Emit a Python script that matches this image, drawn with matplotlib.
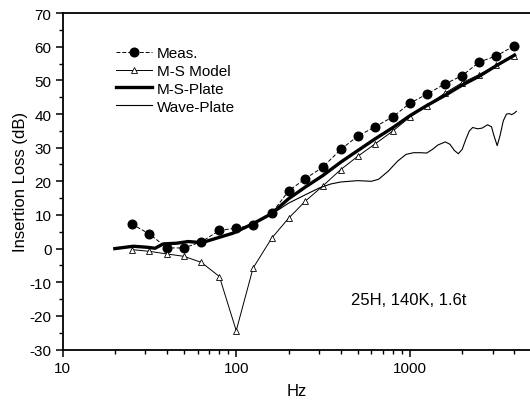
import numpy as np
import matplotlib
matplotlib.use('Agg')
import matplotlib.pyplot as plt
from matplotlib.ticker import MultipleLocator, LogLocator, FixedLocator, NullFormatter

plt.rcParams.update({'font.family': 'Liberation Sans',
                     'font.size': 11,
                     'axes.unicode_minus': False,
                     'axes.linewidth': 1.3})

# 1/3 octave band centres
freq = [25, 31.5, 40, 50, 63, 80, 100, 125, 160, 200, 250, 315, 400,
        500, 630, 800, 1000, 1250, 1600, 2000, 2500, 3150, 4000]
meas = [7.3, 4.4, 0.2, 0.2, 2.0, 5.4, 6.1, 7.0, 10.5, 17.1, 20.8, 24.2, 29.5,
        33.4, 36.2, 39.2, 43.2, 45.9, 49.0, 51.4, 55.4, 57.3, 60.3]
ms_model = [-0.3, -0.8, -1.6, -2.3, -4.1, -8.3, -24.4, -5.8, 3.1, 9.0, 14.1, 18.6, 23.5,
            27.4, 31.1, 35.0, 39.1, 42.5, 46.3, 49.3, 51.7, 54.5, 57.2]

# M-S-Plate (continuous curve)
msp_f = [20, 25.6, 30.6, 34.1, 38, 45.4, 53, 59, 67.6, 77, 96, 125, 160, 200, 250,
         315, 400, 500, 630, 800, 1000, 1250, 1600, 2000, 2500, 3150, 4000]
msp_v = [0.0, 0.7, 0.4, 0.1, 1.4, 1.6, 2.1, 1.9, 2.2, 3.1, 4.6, 7.4, 10.4, 14.8, 18.3,
         21.7, 25.7, 29.1, 32.6, 36.0, 39.5, 42.5, 45.6, 48.6, 51.2, 54.4, 57.5]

# Wave-Plate (continuous curve)
wp_f = [20, 25.6, 30.6, 34.1, 38, 45.4, 53, 59, 67.6, 77, 96, 125, 160, 200, 250, 300,
        350, 400, 500, 600, 660, 750, 850, 950, 1050, 1150, 1250, 1350, 1450, 1600,
        1700, 1800, 1900, 2000, 2100, 2200, 2300, 2450, 2600, 2800, 2950, 3050, 3180,
        3300, 3450, 3600, 3750, 3850, 4000, 4100]
wp_v = [0.0, 0.7, 0.4, 0.1, 1.4, 1.6, 2.1, 1.9, 2.2, 3.1, 4.6, 7.3, 10.2, 13.5, 16.0, 18.0,
        19.2, 19.8, 20.2, 20.0, 20.6, 23.0, 26.0, 28.0, 28.5, 28.5, 28.4, 29.5, 30.8, 31.7,
        31.0, 29.2, 28.2, 29.5, 32.5, 35.0, 36.0, 35.6, 35.8, 36.8, 36.2, 33.5, 30.6,
        33.5, 38.0, 40.0, 40.1, 39.8, 40.3, 40.8]

fig = plt.figure(figsize=(5.30, 4.02), dpi=100)
ax = fig.add_axes([0.118, 0.128, 0.882, 0.837])

ax.plot(freq, meas, color='k', lw=0.7, ls=(0, (4, 2)), marker='o', ms=6.2,
        mfc='k', mec='k', label='Meas.')
ax.plot(freq, ms_model, color='k', lw=0.7, marker='^', ms=4.5, mfc='white',
        mec='k', mew=0.6, label='M-S Model')
ax.plot(msp_f, msp_v, color='k', lw=2.4, label='M-S-Plate')
ax.plot(wp_f, wp_v, color='k', lw=0.8, label='Wave-Plate')

ax.set_xscale('log')
ax.set_xlim(10, 4914)
ax.set_ylim(-30, 70)
ax.xaxis.set_major_locator(FixedLocator([10, 100, 1000]))
ax.set_xticklabels(['10', '100', '1000'])
ax.xaxis.set_minor_locator(LogLocator(base=10, subs=np.arange(2, 10)))
ax.xaxis.set_minor_formatter(NullFormatter())
ax.yaxis.set_major_locator(MultipleLocator(10))
ax.yaxis.set_minor_locator(MultipleLocator(5))
ax.tick_params(which='major', direction='out', length=5, width=1.1, labelsize=11, pad=3)
ax.tick_params(which='minor', direction='out', length=3, width=1.0)
ax.spines['right'].set_visible(False)

ax.set_xlabel('Hz', fontsize=12, labelpad=6)
ax.set_ylabel('Insertion Loss (dB)', fontsize=12, labelpad=1)

ax.text(456, -15, '25H, 140K, 1.6t', fontsize=12, ha='left', va='center')

leg = ax.legend(loc='upper left', bbox_to_anchor=(0.114, 0.902), frameon=False,
                fontsize=11, handlelength=2.4, handletextpad=0.3,
                labelspacing=0.25, numpoints=1, borderpad=0, borderaxespad=0)

fig.savefig('out.png', dpi=100)
